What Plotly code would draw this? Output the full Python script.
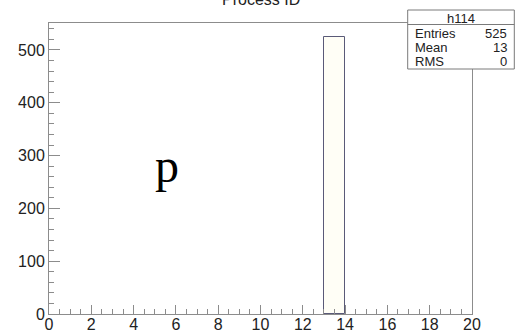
import plotly.graph_objects as go

# Histogram h114: process ID, 20 unit-width bins from 0 to 20
bin_lo = [0, 1, 2, 3, 4, 5, 6, 7, 8, 9, 10, 11, 12, 13, 14, 15, 16, 17, 18, 19]
counts = [0, 0, 0, 0, 0, 0, 0, 0, 0, 0, 0, 0, 0, 525, 0, 0, 0, 0, 0, 0]
x_ticks = [0, 2, 4, 6, 8, 10, 12, 14, 16, 18, 20]
y_ticks = [0, 100, 200, 300, 400, 500]
stats_name = "h114"
stats_rows = [("Entries", "525"), ("Mean", "13"), ("RMS", "0")]
title_text = "Process ID"

W, H = 532, 330
ML, MR, MT, MB = 49, 60, 23, 16
PW, PH = W - ML - MR, H - MT - MB


def px_x(p):
    return (p - ML) / PW


def px_y(p):
    return (H - MB - p) / PH


FONT = "Liberation Sans, Arial, sans-serif"
FRAME = "#8c8c8c"
TXT = "#222222"

xs = [lo + 0.5 for lo, c in zip(bin_lo, counts) if c > 0]
ys = [c for c in counts if c > 0]

fig = go.Figure()
fig.add_trace(go.Bar(
    x=xs, y=ys, width=1,
    marker=dict(color="#fffef6", line=dict(color="#5a5a78", width=1)),
    showlegend=False, hoverinfo="skip",
))

axis_common = dict(
    showgrid=False, zeroline=False, showline=True, mirror=True,
    linecolor=FRAME, linewidth=1, ticks="inside", tickcolor=FRAME,
    tickwidth=1, tickfont=dict(family=FONT, size=16, color=TXT),
    automargin=False,
)
fig.update_xaxes(
    range=[0, 20], tickvals=x_ticks, ticklen=9, ticklabelstandoff=-4,
    minor=dict(ticks="inside", dtick=0.5, tick0=0, ticklen=5, tickcolor=FRAME),
    **axis_common,
)
fig.update_yaxes(
    range=[0, 551], tickvals=y_ticks, ticklen=11,
    minor=dict(ticks="inside", dtick=20, tick0=0, ticklen=5, tickcolor=FRAME),
    **axis_common,
)

shapes = [
    dict(type="rect", xref="paper", yref="paper",
         x0=px_x(407.7), x1=px_x(514.3), y0=px_y(69), y1=px_y(10),
         line=dict(color="#7a7a7a", width=1), fillcolor="white", layer="above"),
    dict(type="line", xref="paper", yref="paper",
         x0=px_x(407.7), x1=px_x(514.3), y0=px_y(24.5), y1=px_y(24.5),
         line=dict(color="#7a7a7a", width=1), layer="above"),
]

annotations = [
    dict(text=title_text, xref="paper", yref="paper", x=0.5, y=px_y(-1),
         xanchor="center", yanchor="middle", showarrow=False,
         font=dict(family=FONT, size=16, color=TXT)),
    dict(text=stats_name, xref="paper", yref="paper", x=px_x(461), y=px_y(18),
         xanchor="center", yanchor="middle", showarrow=False,
         font=dict(family=FONT, size=13, color=TXT)),
    dict(text="p", xref="paper", yref="paper", x=px_x(166.7), y=px_y(165),
         xanchor="center", yanchor="middle", showarrow=False,
         font=dict(family="Liberation Serif, Times New Roman, serif", size=48, color="#000000")),
]
row_y = [33.3, 47.5, 61.7]
for (label, val), ry in zip(stats_rows, row_y):
    annotations.append(dict(text=label, xref="paper", yref="paper", x=px_x(412.5), y=px_y(ry),
                            xanchor="left", yanchor="middle", showarrow=False,
                            font=dict(family=FONT, size=13, color=TXT)))
    annotations.append(dict(text=val, xref="paper", yref="paper", x=px_x(508.5), y=px_y(ry),
                            xanchor="right", yanchor="middle", showarrow=False,
                            font=dict(family=FONT, size=13, color=TXT)))

fig.update_layout(
    width=W, height=H,
    margin=dict(l=ML, r=MR, t=MT, b=MB, pad=0, autoexpand=False),
    paper_bgcolor="white", plot_bgcolor="white",
    bargap=0, shapes=shapes, annotations=annotations,
)

fig.write_html("out.html", config={"displayModeBar": False})
